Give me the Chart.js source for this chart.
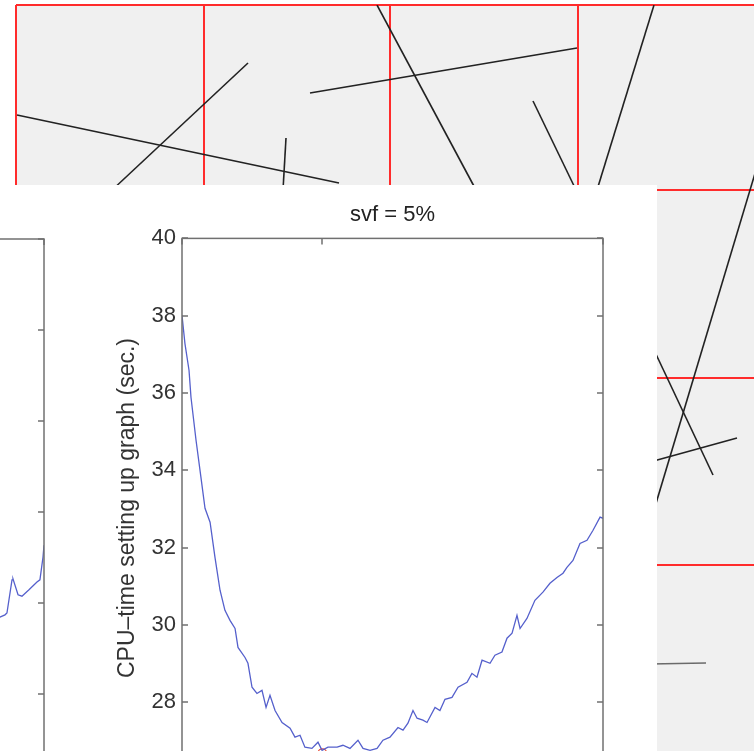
<!DOCTYPE html>
<html>
<head>
<meta charset="utf-8">
<script src="https://cdn.jsdelivr.net/npm/chart.js@4.4.1/dist/chart.umd.min.js"></script>
<style>
  html, body { margin: 0; padding: 0; background: #fff; }
  #stage { position: relative; width: 754px; height: 751px; overflow: hidden; }
  #bg { position: absolute; left: 0; top: 0; }
  #panel { position: absolute; left: 0; top: 185px; width: 657px; height: 566px; background: #fff; overflow: hidden; }
  #leftChart { position: absolute; left: -500px; top: 0; }
  #mainChart { position: absolute; left: 0; top: 0; }
</style>
</head>
<body>
<div id="stage">
  <canvas id="bg" width="754" height="751"></canvas>
  <div id="panel">
    <canvas id="leftChart" width="545" height="760"></canvas>
    <canvas id="mainChart" width="657" height="720"></canvas>
  </div>
</div>
<script>
// ---- main plot (svf = 5%) ----
const titleText = "svf = 5%";
const yAxisLabel = "CPU\u2013time setting up graph (sec.)";
const yTicks = [24, 26, 28, 30, 32, 34, 36, 38, 40];
const xTicks = [0, 100, 300];

const cpuX = [0, 2.1, 5.0, 6.4, 10.0, 13.5, 16.4, 20.0, 23.5, 27.1,
  30.6, 34.2, 37.8, 39.9, 44.9, 47.0, 49.9, 53.4, 57.0, 59.9,
  62.7, 66.3, 71.3, 77.0, 80.5, 84.1, 87.6, 92.6, 96.9, 99.8,
  104.0, 110.5, 114.7, 119.7, 125.4, 129.0, 134.0, 139.0, 143.2, 148.2,
  153.9, 157.5, 161.0, 164.6, 167.5, 171.7, 174.6, 180.3, 183.8, 187.4,
  192.4, 196.7, 203.1, 206.6, 210.2, 213.8, 219.5, 223.0, 228.0, 231.6,
  235.2, 238.7, 240.9, 245.8, 251.5, 257.2, 262.2, 267.2, 271.5, 274.3,
  278.6, 283.6, 288.6, 292.9, 297.9, 300];
const cpuY = [38.01, 37.28, 36.59, 35.89, 34.78, 33.82, 33.02, 32.66, 31.75, 30.90,
  30.38, 30.12, 29.91, 29.42, 29.16, 29.01, 28.39, 28.23, 28.31, 27.87,
  28.18, 27.79, 27.48, 27.33, 27.10, 27.15, 26.84, 26.81, 26.97, 26.76,
  26.84, 26.84, 26.89, 26.81, 27.02, 26.81, 26.76, 26.81, 27.02, 27.10,
  27.35, 27.28, 27.46, 27.79, 27.59, 27.54, 27.48, 27.87, 27.79, 28.08,
  28.13, 28.39, 28.52, 28.75, 28.65, 29.09, 29.01, 29.22, 29.30, 29.66,
  29.79, 30.25, 29.91, 30.17, 30.64, 30.85, 31.08, 31.23, 31.34, 31.49,
  31.67, 32.11, 32.19, 32.45, 32.79, 32.76];

// minimum marker
const minX = [100];
const minY = [26.68];

// ---- neighbouring plot, only its right edge shows ----
const leftTicks = [26, 28, 30, 32, 34, 36, 38, 40];
const leftX = [261.5, 268.6, 272.2, 273.6, 277.2, 277.9, 281.5, 284.3, 289.3, 295.0, 297.1, 299.3, 300];
const leftY = [31.64, 31.69, 31.74, 31.78, 32.51, 32.53, 32.18, 32.15, 32.29, 32.46, 32.51, 33.01, 33.27];

// ---- sheet behind (grid cells with line segments) ----
const gridX = [16, 204, 390, 578];
const gridY = [5, 190, 378, 565];
const segments = [
  [17, 115, 339, 183],
  [248, 63, 110, 192],
  [286, 138, 283, 190],
  [310, 93, 577, 48],
  [377, 5, 476, 190],
  [533, 101, 576, 190],
  [654, 5, 597, 190],
  [762, 150, 651, 520],
  [654, 350, 713, 475],
  [650, 462, 737, 438],
  [650, 664, 706, 663]
];
const greySegment = 10;

const toPoints = (xs, ys) => xs.map((x, i) => ({ x: x, y: ys[i] }));
const fixTicks = values => scale => { scale.ticks = values.map(v => ({ value: v })); };

// grey fill of the sheet
const sheetFill = {
  id: "sheetFill",
  beforeDraw(chart) {
    const { ctx, chartArea: a } = chart;
    ctx.save();
    ctx.fillStyle = "#f0f0f0";
    ctx.fillRect(a.left, a.top, a.right - a.left, a.bottom - a.top);
    ctx.restore();
  }
};

// matlab style box with inward ticks on all sides
const boxAxes = {
  id: "boxAxes",
  afterDatasetsDraw(chart) {
    const { ctx, chartArea: a, scales } = chart;
    const len = 6;
    ctx.save();
    ctx.strokeStyle = "#707070";
    ctx.lineWidth = 1.5;
    ctx.strokeRect(a.left, a.top, a.right - a.left, a.bottom - a.top);
    ctx.beginPath();
    scales.y.ticks.forEach(t => {
      const py = Math.round(scales.y.getPixelForValue(t.value));
      ctx.moveTo(a.left, py); ctx.lineTo(a.left + len, py);
      ctx.moveTo(a.right - len, py); ctx.lineTo(a.right, py);
    });
    scales.x.ticks.forEach(t => {
      const px = Math.round(scales.x.getPixelForValue(t.value));
      ctx.moveTo(px, a.top); ctx.lineTo(px, a.top + len);
      ctx.moveTo(px, a.bottom - len); ctx.lineTo(px, a.bottom);
    });
    ctx.stroke();
    ctx.restore();
  }
};

const yLabel = {
  id: "yLabel",
  afterDraw(chart) {
    const { ctx, chartArea: a } = chart;
    ctx.save();
    ctx.translate(a.left - 54, 323);
    ctx.rotate(-Math.PI / 2);
    ctx.font = "23px 'Liberation Sans', Arial, sans-serif";
    ctx.fillStyle = "#333";
    ctx.textAlign = "center";
    ctx.textBaseline = "middle";
    ctx.fillText(yAxisLabel, 0, 0);
    ctx.restore();
  }
};

Chart.defaults.font.family = "'Liberation Sans', Arial, sans-serif";

// background sheet
new Chart(document.getElementById("bg"), {
  type: "scatter",
  data: {
    datasets: segments.map((s, i) => ({
      data: [{ x: s[0], y: s[1] }, { x: s[2], y: s[3] }],
      showLine: true,
      borderColor: i === greySegment ? "#6a6a6a" : "#222",
      borderWidth: i === greySegment ? 1.3 : 1.6,
      pointRadius: 0
    }))
  },
  options: {
    responsive: false,
    animation: false,
    layout: { padding: { left: 16, top: 5, right: 0, bottom: 0 } },
    plugins: { legend: { display: false }, tooltip: { enabled: false } },
    scales: {
      x: {
        type: "linear", min: 16, max: 754,
        afterBuildTicks: fixTicks(gridX),
        grid: { color: "#ff2b2b", lineWidth: 2, drawTicks: false },
        border: { display: false },
        ticks: { display: false }
      },
      y: {
        type: "linear", min: 5, max: 751, reverse: true,
        afterBuildTicks: fixTicks(gridY),
        grid: { color: "#ff2b2b", lineWidth: 2, drawTicks: false },
        border: { display: false },
        ticks: { display: false }
      }
    }
  },
  plugins: [sheetFill]
});

// neighbouring subplot
new Chart(document.getElementById("leftChart"), {
  type: "line",
  data: {
    datasets: [{
      data: toPoints(leftX, leftY),
      borderColor: "#5560cc",
      borderWidth: 1.3,
      pointRadius: 0
    }]
  },
  options: {
    responsive: false,
    animation: false,
    layout: { padding: { left: 123, top: 54, right: 1, bottom: 69 } },
    plugins: { legend: { display: false }, tooltip: { enabled: false } },
    scales: {
      x: {
        type: "linear", min: 0, max: 300,
        afterBuildTicks: fixTicks(xTicks),
        grid: { display: false, drawTicks: false },
        border: { display: false },
        ticks: { display: false }
      },
      y: {
        type: "linear", min: 26, max: 40,
        afterBuildTicks: fixTicks(leftTicks),
        grid: { display: false, drawTicks: false },
        border: { display: false },
        ticks: { display: false }
      }
    }
  },
  plugins: [boxAxes]
});

// main subplot
new Chart(document.getElementById("mainChart"), {
  type: "line",
  data: {
    datasets: [{
      data: toPoints(cpuX, cpuY),
      borderColor: "#5560cc",
      borderWidth: 1.3,
      pointRadius: 0
    }, {
      type: "scatter",
      data: toPoints(minX, minY),
      pointRadius: 4.5,
      pointStyle: "circle",
      borderColor: "#e8402a",
      backgroundColor: "rgba(0,0,0,0)",
      borderWidth: 1.2
    }]
  },
  options: {
    responsive: false,
    animation: false,
    layout: { padding: { left: 111, top: 0, right: 54, bottom: 48 } },
    plugins: {
      legend: { display: false },
      tooltip: { enabled: false },
      title: {
        display: true,
        text: titleText,
        fullSize: false,
        color: "#222",
        font: { size: 22, weight: "normal" },
        padding: { top: 17, bottom: 10 }
      }
    },
    scales: {
      x: {
        type: "linear", min: 0, max: 300,
        afterBuildTicks: fixTicks(xTicks),
        grid: { display: false, drawTicks: false },
        border: { display: false },
        ticks: { display: false }
      },
      y: {
        type: "linear", min: 24, max: 40,
        afterBuildTicks: fixTicks(yTicks),
        afterFit: scale => { scale.width = 71; },
        grid: { display: false, drawTicks: false },
        border: { display: false },
        ticks: { color: "#333", font: { size: 22 }, padding: 6 }
      }
    }
  },
  plugins: [boxAxes, yLabel]
});
</script>
</body>
</html>
